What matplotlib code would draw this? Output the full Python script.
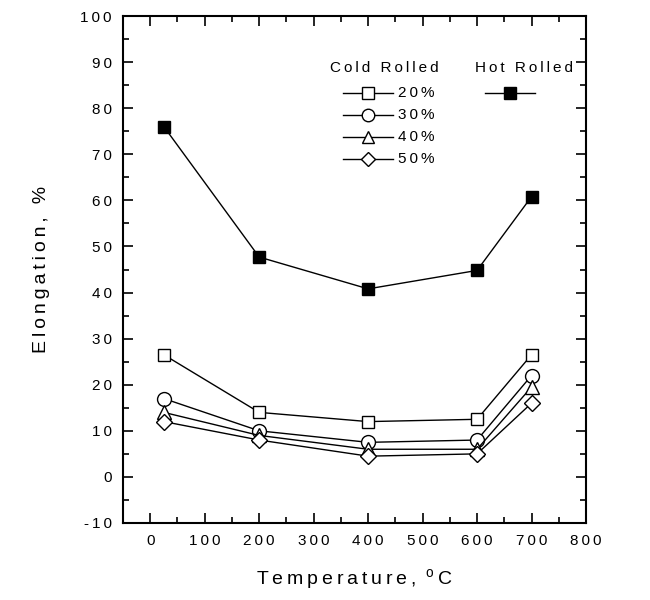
import matplotlib.pyplot as plt
from matplotlib.ticker import MultipleLocator, FuncFormatter

plt.rcParams['font.family'] = ['Liberation Sans', 'DejaVu Sans']
plt.rcParams['mathtext.fontset'] = 'custom'
plt.rcParams['mathtext.rm'] = 'Liberation Sans'

# data
temps = [25, 200, 400, 600, 700]
hot_rolled = [76, 47.7, 40.8, 44.8, 60.8]
cold_20 = [26.5, 14, 12, 12.5, 26.5]
cold_30 = [17, 10, 7.5, 8, 22]
cold_40 = [14, 9, 6, 6, 19.5]
cold_50 = [12, 8, 4.5, 5, 16]

cold_series = [cold_20, cold_30, cold_40, cold_50]
cold_labels = ['20%', '30%', '40%', '50%']
cold_markers = ['s', 'o', '^', 'D']
cold_sizes = [9, 10, 10, 8]

TS = '\u2009'  # thin space, used to mimic the wide letter spacing


def spaced(s):
    return TS.join(s)


fig = plt.figure(figsize=(6.5, 6), dpi=100)
ax = fig.add_axes([123 / 650, 77 / 600, 463 / 650, 507 / 600])

for ys, m, ms in zip(cold_series, cold_markers, cold_sizes):
    ax.plot(temps, ys, color='black', lw=1, marker=m, ms=ms,
            mfc='white', mec='black', mew=1)
ax.plot(temps, hot_rolled, color='black', lw=1, marker='s', ms=9,
        mfc='black', mec='black')

ax.set_xlim(-50, 800)
ax.set_ylim(-10, 100)
ax.xaxis.set_major_locator(MultipleLocator(100))
ax.xaxis.set_minor_locator(MultipleLocator(50))
ax.yaxis.set_major_locator(MultipleLocator(10))
ax.yaxis.set_minor_locator(MultipleLocator(5))
fmt = FuncFormatter(lambda v, p: spaced(f'{v:g}'))
ax.xaxis.set_major_formatter(fmt)
ax.yaxis.set_major_formatter(fmt)
ax.tick_params(which='both', direction='in', top=True, right=True,
               width=1.2, labelsize=11, pad=8)
ax.tick_params(which='major', length=7)
ax.tick_params(which='minor', length=4)
for s in ax.spines.values():
    s.set_linewidth(1.5)

ax.set_xlabel(spaced('Temperature,') + TS + ' $^{\\mathrm{o}}$' + TS + 'C',
              fontsize=14, labelpad=14)
ax.set_ylabel(spaced('Elongation, %'), fontsize=14, labelpad=22)

# hand-built legend
tr = ax.transAxes
ax.text(0.448, 0.897, spaced('Cold Rolled'), transform=tr,
        fontsize=11, ha='left', va='center')
ax.text(0.76, 0.897, spaced('Hot Rolled'), transform=tr,
        fontsize=11, ha='left', va='center')
for i, (lab, m, ms) in enumerate(zip(cold_labels, cold_markers, cold_sizes)):
    yy = 0.848 - i * 0.0434
    ax.plot([0.475, 0.583], [yy, yy], transform=tr, color='black', lw=1)
    ax.plot([0.529], [yy], transform=tr, color='black', marker=m, ms=ms - 1,
            mfc='white', mec='black', lw=0)
    ax.text(0.594, yy, spaced(lab), transform=tr, fontsize=11, ha='left', va='center')
ax.plot([0.782, 0.89], [0.848, 0.848], transform=tr, color='black', lw=1)
ax.plot([0.836], [0.848], transform=tr, color='black', marker='s', ms=8,
        mfc='black', lw=0)

fig.savefig('out.png', dpi=100)
